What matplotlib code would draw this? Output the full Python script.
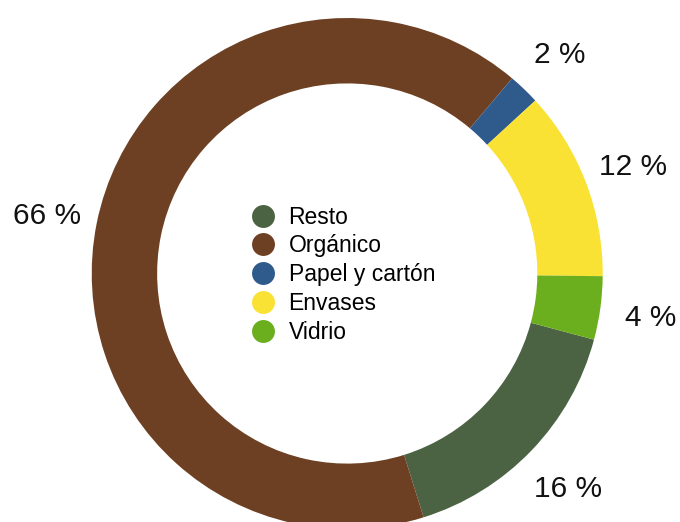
import matplotlib.pyplot as plt
from matplotlib.lines import Line2D

plt.rcParams["font.family"] = ["Liberation Sans", "DejaVu Sans"]

# waste fractions, percent
categories = ["Resto", "Orgánico", "Papel y cartón", "Envases", "Vidrio"]
shares = [16, 66, 2, 12, 4]
colors = ["#4b6343", "#6e4023", "#2e5a8c", "#f9e234", "#6baf1f"]


def main():
    fig = plt.figure(figsize=(6.8, 5.22), dpi=100)
    ax = fig.add_axes([0, 0, 1, 1])

    wedges, texts = ax.pie(
        shares,
        labels=[f"{s} %" for s in shares],
        colors=colors,
        startangle=-15,
        counterclock=False,
        labeldistance=1.2,
        radius=1.0,
        wedgeprops=dict(width=0.256, linewidth=0),
        textprops=dict(fontsize=21.5, color="#111111"),
    )
    for t in texts:
        t.set_horizontalalignment("center")
        t.set_verticalalignment("center_baseline")

    # the ring is centred off the middle and cut at the bottom
    ax.set_xlim(-1.359, 1.3025)
    ax.set_ylim(-0.9726, 1.0705)
    ax.set_aspect("auto")
    ax.axis("off")

    handles = [
        Line2D([], [], marker="o", linestyle="", markersize=16.5,
               markerfacecolor=c, markeredgewidth=0)
        for c in colors
    ]
    fig.legend(
        handles, categories,
        loc="center left",
        bbox_to_anchor=(242.7 / 680, 0.474),
        bbox_transform=fig.transFigure,
        frameon=False,
        fontsize=16.5,
        handlelength=1.0,
        handletextpad=0.6,
        labelspacing=0.25,
        borderaxespad=0,
    )

    fig.savefig("out.png", dpi=100)
    plt.close(fig)


if __name__ == "__main__":
    main()
